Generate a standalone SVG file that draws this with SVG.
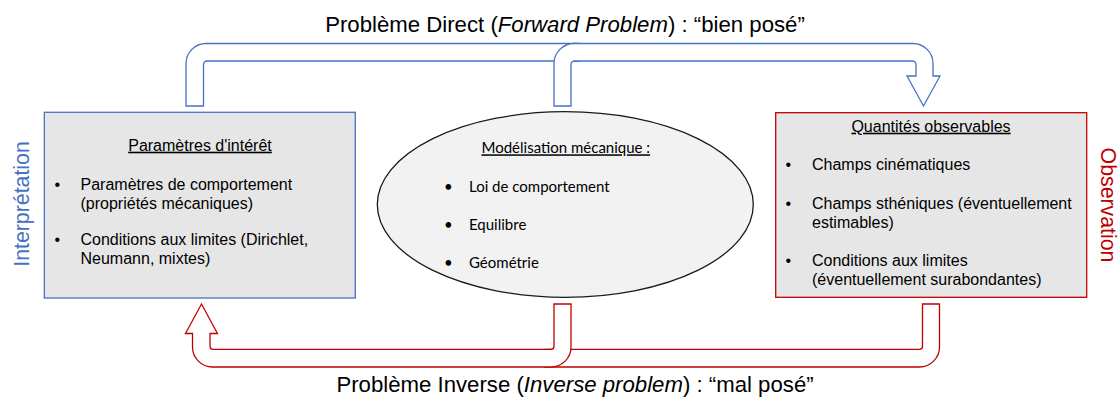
<svg xmlns="http://www.w3.org/2000/svg" width="1119" height="398" viewBox="0 0 1119 398">
<style>
.t{font-family:"Liberation Sans",Arial,sans-serif;font-size:16px;fill:#000}
.e{font-family:Lato,"Open Sans",sans-serif;font-size:15px;fill:#000}
.u{text-decoration:underline}
.big{font-family:"Liberation Sans",Arial,sans-serif;font-size:22.2px;fill:#000}
.side{font-family:"Liberation Sans",Arial,sans-serif;font-size:21.3px}
.blue{fill:#fff;stroke:#4472c4;stroke-width:1.3}
.red{fill:#fff;stroke:#c00000;stroke-width:1.3}
</style>
<rect width="1119" height="398" fill="#fff"/>
<g id="connectors">
<path class="blue" d="M186,106 L186,63.5 A20,20 0 0 1 206,43.5 L580,43.5 L580,61 L207,61 A3.5,3.5 0 0 0 203.5,64.5 L203.5,106 Z"/>
<path class="blue" d="M554,106 L554,63.5 A20,20 0 0 1 574,43.5 L913,43.5 A20,20 0 0 1 933,63.5 L933,76 L940,76 L923.5,106 L907,76 L916,76 L916,64.5 A3.5,3.5 0 0 0 912.5,61 L574.5,61 A3.5,3.5 0 0 0 571,64.5 L571,106 Z"/>
<path class="red" d="M922.5,304 L939.5,304 L939.5,347 A20,20 0 0 1 919.5,367 L545,367 L545,349.3 L919.5,349.3 A3,3 0 0 0 922.5,346.3 Z"/>
<path class="red" d="M554,304 L571,304 L571,347 A20,20 0 0 1 551,367 L212.5,367 A20,20 0 0 1 192.5,347 L192.5,333.5 L185.5,333.5 L201.5,304 L217.5,333.5 L210,333.5 L210,346.3 A3,3 0 0 0 213,349.3 L551,349.3 A3,3 0 0 0 554,346.3 Z"/>
</g>
<g id="title-direct">
<text class="big" x="565" y="32.3" text-anchor="middle">Problème Direct (<tspan font-style="italic">Forward Problem</tspan>) : “bien posé”</text>
</g>
<g id="title-inverse">
<text class="big" x="575" y="391.7" text-anchor="middle">Problème Inverse (<tspan font-style="italic">Inverse problem</tspan>) : “mal posé”</text>
</g>
<g id="parametres">
<rect x="44.3" y="112.3" width="311" height="185.7" fill="#e7e6e6" stroke="#4472c4" stroke-width="1.3"/>
<text class="t u" x="200" y="150.7" text-anchor="middle">Paramètres d'intérêt</text>
<text class="t" x="54.5" y="190">•</text>
<text class="t" x="80.5" y="190">Paramètres de comportement</text>
<text class="t" x="80.5" y="209.3">(propriétés mécaniques)</text>
<text class="t" x="54.5" y="244.5">•</text>
<text class="t" x="80.5" y="244.5">Conditions aux limites (Dirichlet,</text>
<text class="t" x="80.5" y="263.8">Neumann, mixtes)</text>
</g>
<g id="interpretation">
<text class="side" x="28.5" y="204" text-anchor="middle" fill="#4472c4" transform="rotate(-90 28.5 204)">Interprétation</text>
</g>
<g id="modelisation">
<ellipse cx="565.3" cy="204.5" rx="188" ry="92.8" fill="#f2f2f2" stroke="#1a1a1a" stroke-width="1.3"/>
<text class="e u" x="565.8" y="153.3" text-anchor="middle">Modélisation mécanique :</text>
<text class="e" x="444" y="191.7">•</text>
<text class="e" x="469" y="191.7">Loi de comportement</text>
<text class="e" x="444" y="230">•</text>
<text class="e" x="469" y="230">Equilibre</text>
<text class="e" x="444" y="268.3">•</text>
<text class="e" x="469" y="268.3">Géométrie</text>
</g>
<g id="quantites">
<rect x="775.7" y="112.7" width="311" height="184.6" fill="#e7e6e6" stroke="#c00000" stroke-width="1.3"/>
<text class="t u" x="931" y="131.7" text-anchor="middle">Quantités observables</text>
<text class="t" x="785.5" y="170">•</text>
<text class="t" x="812" y="170">Champs cinématiques</text>
<text class="t" x="785.5" y="209">•</text>
<text class="t" x="812" y="209">Champs sthéniques (éventuellement</text>
<text class="t" x="812" y="228">estimables)</text>
<text class="t" x="785.5" y="265.7">•</text>
<text class="t" x="812" y="265.7">Conditions aux limites</text>
<text class="t" x="812" y="284.5">(éventuellement surabondantes)</text>
</g>
<g id="observation">
<text class="side" x="1100.5" y="205" text-anchor="middle" fill="#c00000" transform="rotate(90 1100.5 205)">Observation</text>
</g>
</svg>
